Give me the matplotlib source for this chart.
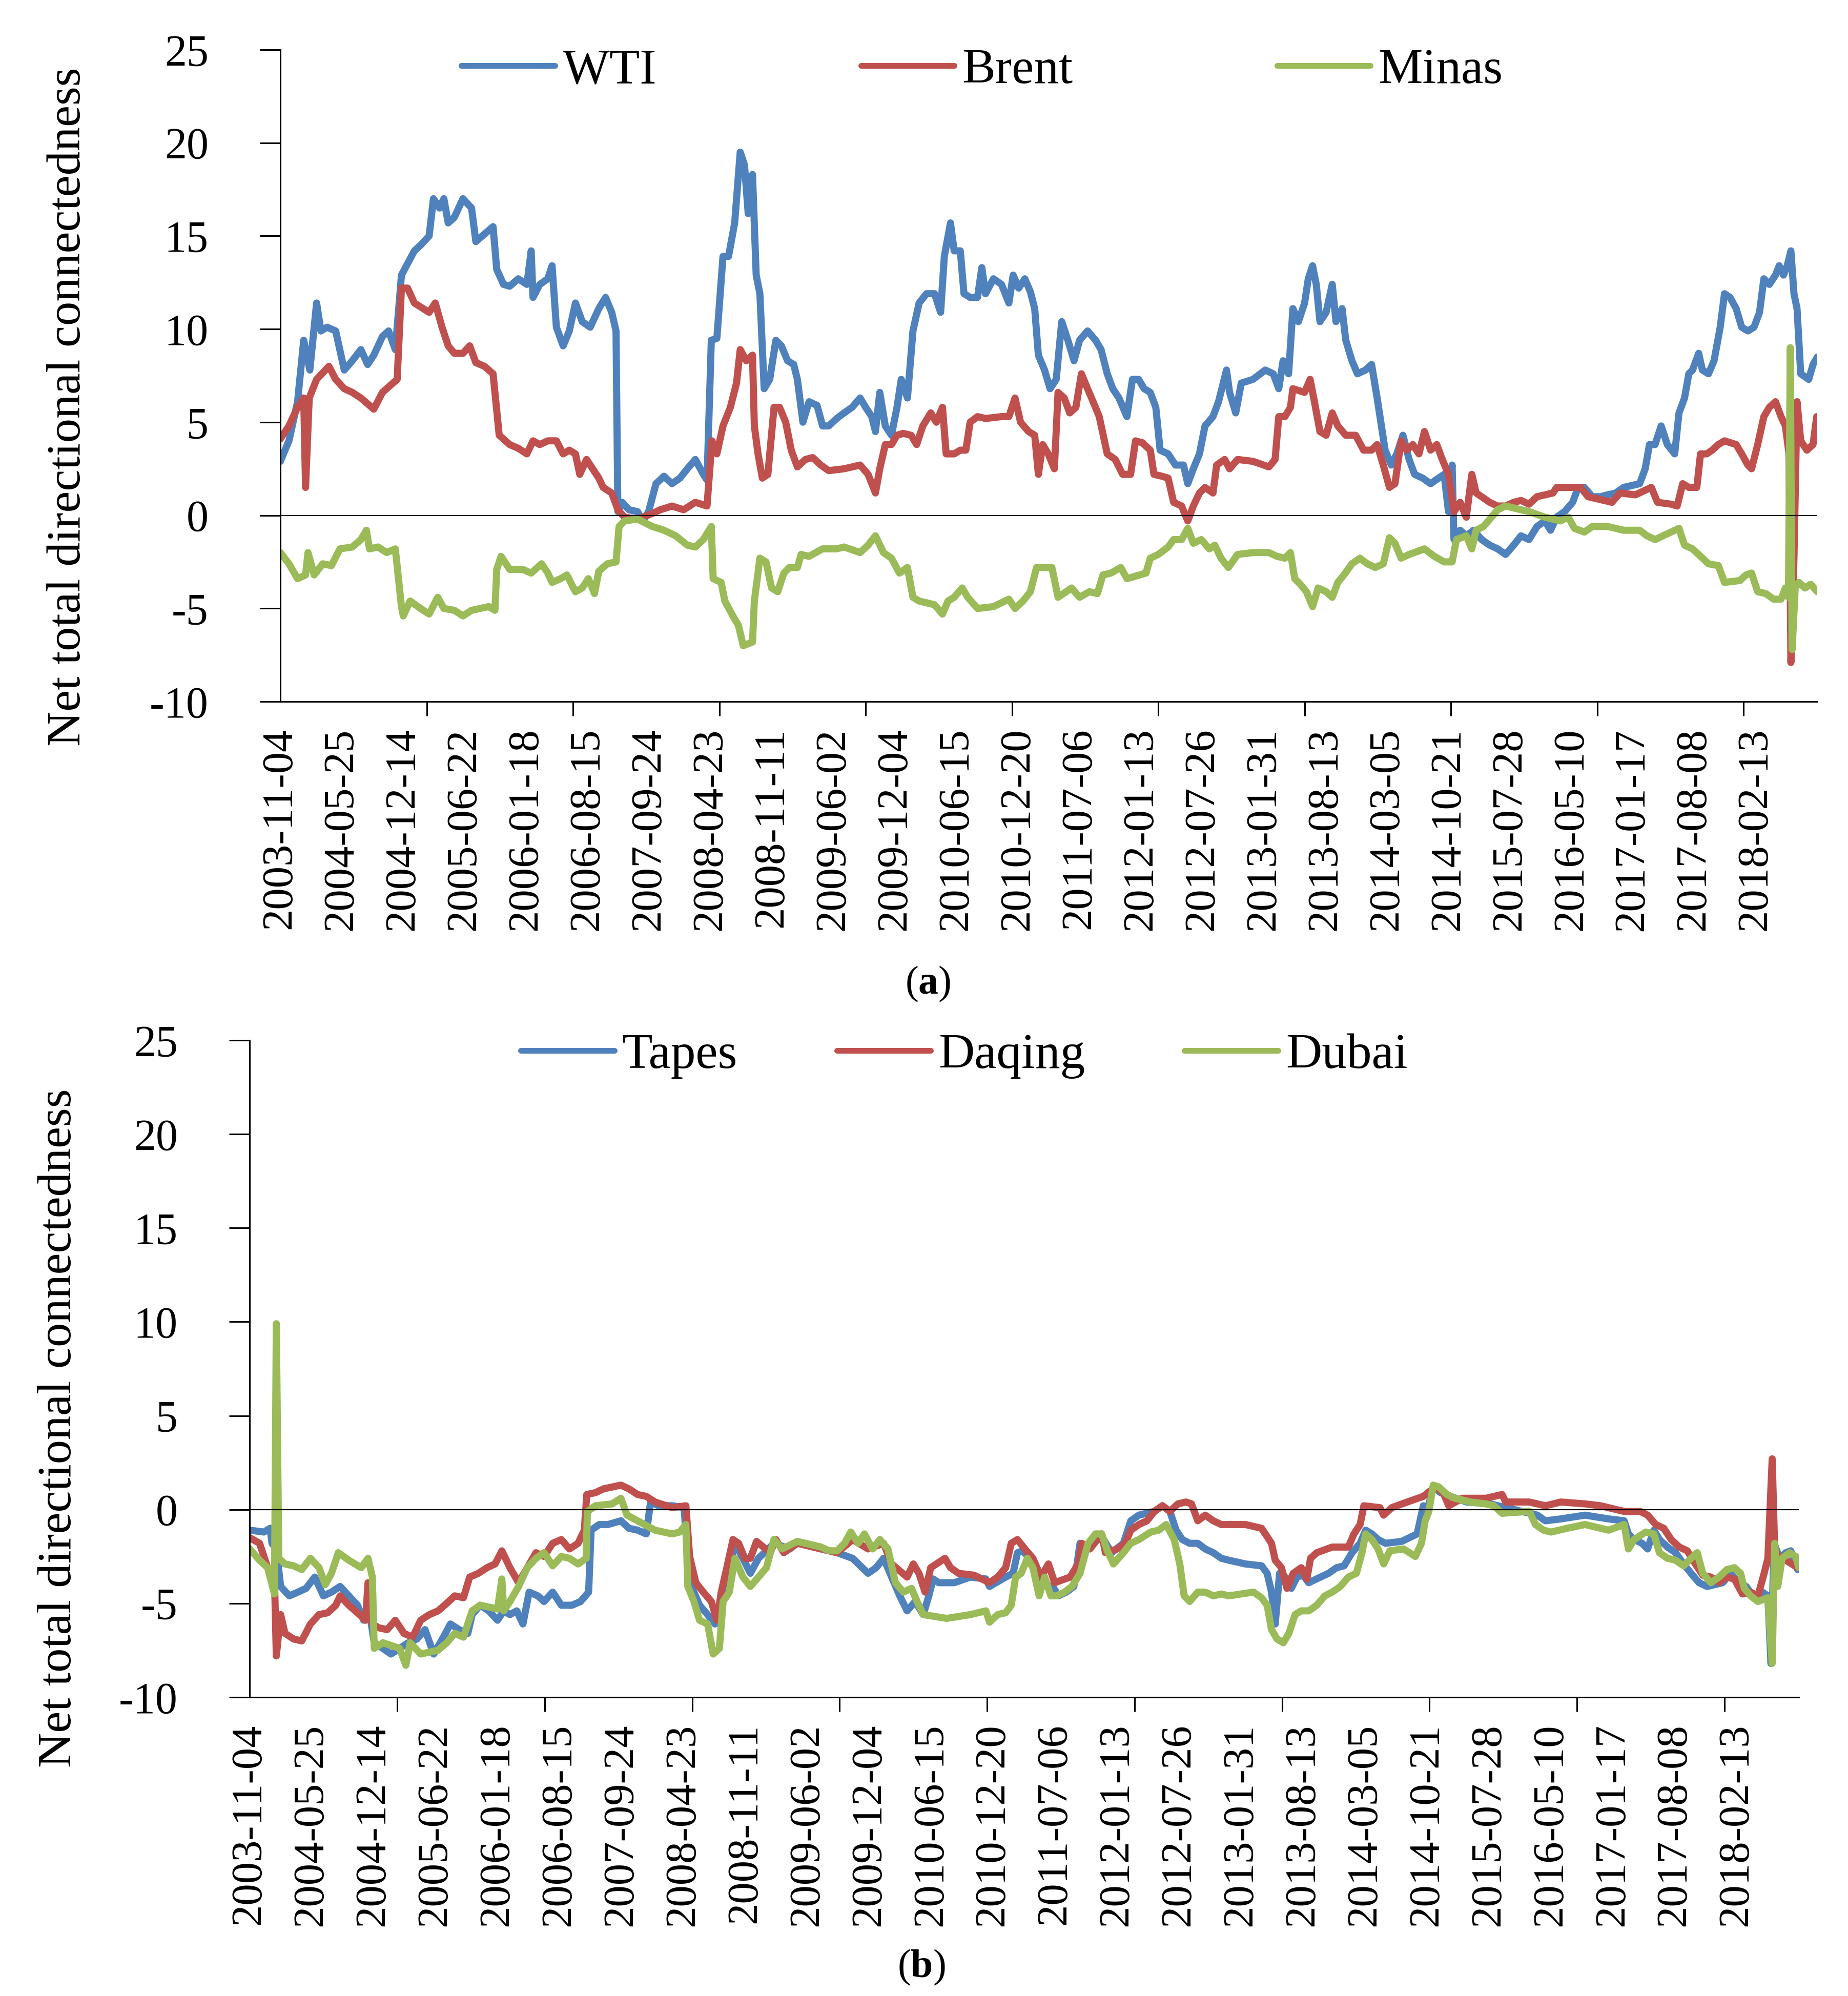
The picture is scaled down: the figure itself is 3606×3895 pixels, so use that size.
import numpy as np
import matplotlib
matplotlib.use('Agg')
import matplotlib.pyplot as plt

plt.rcParams['font.family'] = ['Liberation Serif', 'DejaVu Serif']
plt.rcParams['mathtext.fontset'] = 'custom'
plt.rcParams['mathtext.rm'] = 'Liberation Serif'
plt.rcParams['mathtext.bf'] = 'Liberation Serif:bold'
plt.rcParams['axes.unicode_minus'] = False

# category labels of the x axis (one every label step)
dates = ['2003-11-04', '2004-05-25', '2004-12-14', '2005-06-22', '2006-01-18',
         '2006-08-15', '2007-09-24', '2008-04-23', '2008-11-11', '2009-06-02',
         '2009-12-04', '2010-06-15', '2010-12-20', '2011-07-06', '2012-01-13',
         '2012-07-26', '2013-01-31', '2013-08-13', '2014-03-05', '2014-10-21',
         '2015-07-28', '2016-05-10', '2017-01-17', '2017-08-08', '2018-02-13']

# (position on category axis, value)
wti = [(0.00, 2.9), (0.14, 4.0), (0.28, 6.1), (0.38, 9.4), (0.48, 7.8), (0.59, 11.4), (0.66, 9.9),
       (0.76, 10.1), (0.90, 9.9), (1.04, 7.8), (1.17, 8.3), (1.31, 8.9), (1.42, 8.1), (1.52, 8.6),
       (1.66, 9.6), (1.76, 9.9), (1.87, 8.9), (1.97, 12.9), (2.18, 14.2), (2.28, 14.5), (2.42, 15.0),
       (2.49, 17.0), (2.59, 16.5), (2.66, 17.0), (2.73, 15.7), (2.83, 16.0), (2.97, 17.0), (3.11, 16.5),
       (3.18, 14.7), (3.32, 15.1), (3.46, 15.5), (3.52, 13.2), (3.63, 12.4), (3.73, 12.3), (3.87, 12.7),
       (4.01, 12.4), (4.08, 14.2), (4.11, 11.7), (4.22, 12.4), (4.35, 12.7), (4.42, 13.4), (4.49, 10.1),
       (4.60, 9.1), (4.70, 9.9), (4.80, 11.4), (4.91, 10.4), (5.04, 10.1), (5.18, 11.1), (5.29, 11.7),
       (5.39, 10.9), (5.46, 9.9), (5.49, 0.2), (5.56, 0.7), (5.67, 0.3), (5.81, 0.2), (5.90, -0.3),
       (5.99, 0.2), (6.11, 1.7), (6.24, 2.1), (6.37, 1.7), (6.50, 2.0), (6.62, 2.5), (6.75, 3.0),
       (6.88, 2.2), (6.94, 1.9), (7.01, 9.4), (7.10, 9.5), (7.20, 13.9), (7.29, 13.9), (7.39, 15.7),
       (7.48, 19.5), (7.55, 18.8), (7.61, 16.2), (7.68, 18.3), (7.74, 12.9), (7.80, 11.9), (7.87, 6.8),
       (7.96, 7.3), (8.06, 9.4), (8.15, 9.1), (8.25, 8.3), (8.35, 8.1), (8.41, 7.3), (8.50, 5.0),
       (8.60, 6.1), (8.73, 5.9), (8.82, 4.8), (8.92, 4.8), (9.05, 5.2), (9.17, 5.5), (9.30, 5.8),
       (9.43, 6.3), (9.52, 5.8), (9.62, 5.3), (9.68, 4.5), (9.75, 6.6), (9.84, 4.8), (9.94, 4.3),
       (10.03, 5.8), (10.10, 7.3), (10.20, 6.3), (10.29, 9.9), (10.39, 11.4), (10.51, 11.9), (10.64, 11.9),
       (10.74, 10.9), (10.80, 13.9), (10.90, 15.7), (10.96, 14.2), (11.06, 14.2), (11.12, 11.9),
       (11.22, 11.7), (11.34, 11.7), (11.41, 13.3), (11.47, 11.9), (11.60, 12.7), (11.73, 12.4),
       (11.85, 11.4), (11.92, 12.9), (12.01, 12.2), (12.11, 12.7), (12.20, 12.0), (12.27, 11.1),
       (12.33, 8.6), (12.43, 7.8), (12.52, 6.8), (12.62, 7.3), (12.71, 10.4), (12.81, 9.4), (12.91, 8.3),
       (13.00, 9.4), (13.13, 9.9), (13.26, 9.4), (13.35, 8.9), (13.45, 7.6), (13.54, 6.8), (13.64, 6.3),
       (13.77, 5.3), (13.86, 7.3), (13.96, 7.3), (14.05, 6.8), (14.15, 6.6), (14.24, 5.8), (14.31, 3.5),
       (14.44, 3.3), (14.56, 2.7), (14.69, 2.7), (14.76, 1.7), (14.85, 2.5), (14.95, 3.3), (15.04, 4.8),
       (15.17, 5.3), (15.26, 6.1), (15.39, 7.8), (15.44, 6.6), (15.54, 5.5), (15.63, 7.1), (15.82, 7.3),
       (16.02, 7.8), (16.15, 7.6), (16.24, 6.8), (16.31, 8.3), (16.40, 7.6), (16.47, 11.1), (16.56, 10.4),
       (16.66, 11.4), (16.72, 12.7), (16.79, 13.4), (16.85, 12.4), (16.91, 10.4), (17.01, 10.9),
       (17.11, 12.4), (17.17, 10.4), (17.27, 11.1), (17.33, 9.4), (17.43, 8.3), (17.52, 7.6), (17.65, 7.8),
       (17.75, 8.1), (17.84, 6.3), (17.91, 4.8), (17.97, 3.5), (18.07, 2.7), (18.16, 3.3), (18.26, 4.3),
       (18.36, 3.0), (18.45, 2.2), (18.58, 2.0), (18.71, 1.7), (18.84, 2.0), (18.93, 2.2), (19.00, 0.2),
       (19.06, 2.7), (19.09, -1.3), (19.19, -0.8), (19.29, -1.1), (19.41, -0.8), (19.54, -1.3),
       (19.67, -1.6), (19.80, -1.8), (19.93, -2.1), (20.06, -1.6), (20.18, -1.1), (20.31, -1.3),
       (20.44, -0.6), (20.57, -0.3), (20.66, -0.8), (20.76, -0.1), (20.89, 0.2), (21.02, 0.7),
       (21.11, 1.5), (21.21, 1.5), (21.34, 1.0), (21.47, 1.0), (21.59, 1.1), (21.72, 1.2), (21.85, 1.5),
       (21.98, 1.6), (22.11, 1.7), (22.20, 2.5), (22.27, 3.8), (22.36, 3.8), (22.46, 4.8), (22.56, 3.8),
       (22.68, 3.3), (22.75, 5.5), (22.84, 6.3), (22.91, 7.6), (22.97, 7.8), (23.07, 8.7), (23.13, 7.8),
       (23.23, 7.6), (23.32, 8.3), (23.42, 10.1), (23.49, 11.9), (23.58, 11.7), (23.68, 11.1),
       (23.77, 10.1), (23.87, 9.9), (23.97, 10.1), (24.06, 10.9), (24.13, 12.7), (24.22, 12.4),
       (24.32, 12.9), (24.38, 13.4), (24.45, 12.9), (24.51, 13.4), (24.57, 14.2), (24.62, 11.9),
       (24.67, 11.1), (24.73, 7.6), (24.86, 7.3), (24.93, 8.1), (25.00, 8.5)]

brent = [(0.00, 4.1), (0.14, 4.8), (0.28, 5.8), (0.38, 6.3), (0.41, 1.5), (0.47, 6.3), (0.59, 7.3),
         (0.79, 8.0), (0.90, 7.3), (1.04, 6.8), (1.17, 6.6), (1.31, 6.3), (1.52, 5.7), (1.66, 6.6),
         (1.90, 7.3), (1.97, 12.2), (2.07, 12.2), (2.18, 11.4), (2.42, 10.9), (2.52, 11.4), (2.63, 10.1),
         (2.73, 9.1), (2.83, 8.7), (2.97, 8.7), (3.08, 9.1), (3.18, 8.2), (3.32, 8.0), (3.46, 7.6),
         (3.56, 4.3), (3.73, 3.8), (3.87, 3.6), (4.01, 3.3), (4.11, 4.0), (4.22, 3.8), (4.35, 4.0),
         (4.49, 4.0), (4.60, 3.3), (4.70, 3.5), (4.80, 3.3), (4.87, 2.2), (4.98, 3.0), (5.08, 2.5),
         (5.18, 2.0), (5.25, 1.5), (5.39, 1.2), (5.49, 0.3), (5.60, -0.1), (5.81, -0.2), (6.05, 0.1),
         (6.18, 0.3), (6.37, 0.5), (6.56, 0.3), (6.75, 0.7), (6.94, 0.5), (7.02, 4.0), (7.10, 3.3),
         (7.20, 4.8), (7.32, 5.8), (7.42, 7.1), (7.48, 8.9), (7.58, 8.3), (7.68, 8.6), (7.71, 4.8),
         (7.77, 3.3), (7.84, 2.0), (7.93, 2.2), (8.03, 5.8), (8.12, 5.8), (8.22, 5.0), (8.31, 3.5),
         (8.41, 2.6), (8.54, 3.0), (8.66, 3.1), (8.79, 2.7), (8.92, 2.4), (9.17, 2.5), (9.30, 2.6),
         (9.43, 2.7), (9.56, 2.2), (9.68, 1.2), (9.75, 2.5), (9.84, 3.8), (9.94, 3.8), (10.03, 4.3),
         (10.13, 4.4), (10.26, 4.3), (10.35, 3.8), (10.45, 4.8), (10.58, 5.5), (10.67, 5.0), (10.77, 5.8),
         (10.83, 3.3), (10.96, 3.3), (11.06, 3.5), (11.15, 3.5), (11.22, 5.0), (11.34, 5.3), (11.47, 5.2),
         (11.73, 5.3), (11.85, 5.3), (11.95, 6.3), (12.04, 5.0), (12.17, 4.5), (12.27, 4.3), (12.33, 2.2),
         (12.40, 3.8), (12.49, 3.3), (12.59, 2.5), (12.65, 6.6), (12.75, 6.3), (12.84, 5.5), (12.94, 5.8),
         (13.03, 7.6), (13.13, 6.8), (13.22, 6.1), (13.32, 5.3), (13.45, 3.3), (13.58, 3.0), (13.70, 2.2),
         (13.83, 2.2), (13.91, 4.0), (14.02, 3.9), (14.15, 3.5), (14.21, 2.2), (14.34, 2.1), (14.44, 2.0),
         (14.53, 0.7), (14.66, 0.5), (14.76, -0.3), (14.85, 0.5), (14.95, 1.2), (15.04, 1.5), (15.17, 1.2),
         (15.23, 2.7), (15.36, 3.0), (15.44, 2.5), (15.57, 3.0), (15.82, 2.9), (16.08, 2.6), (16.18, 3.0),
         (16.24, 5.3), (16.34, 5.3), (16.43, 5.8), (16.47, 6.8), (16.66, 6.6), (16.75, 7.3), (16.82, 6.1),
         (16.91, 4.5), (17.01, 4.3), (17.11, 5.5), (17.20, 4.8), (17.33, 4.3), (17.49, 4.3), (17.62, 3.5),
         (17.75, 3.5), (17.84, 3.8), (17.94, 2.7), (18.04, 1.5), (18.13, 1.7), (18.23, 4.0), (18.32, 3.5),
         (18.42, 3.8), (18.52, 3.3), (18.61, 4.5), (18.71, 3.5), (18.81, 3.8), (18.90, 3.0), (19.00, 2.2),
         (19.09, 0.2), (19.19, 0.7), (19.29, -0.1), (19.38, 2.2), (19.45, 1.2), (19.54, 1.0), (19.67, 0.7),
         (19.80, 0.5), (19.93, 0.5), (20.06, 0.7), (20.18, 0.8), (20.31, 0.6), (20.44, 1.0), (20.70, 1.2),
         (20.76, 1.5), (21.15, 1.5), (21.27, 1.0), (21.53, 0.8), (21.66, 0.7), (21.79, 1.2), (22.04, 1.1),
         (22.30, 1.5), (22.40, 0.7), (22.62, 0.6), (22.72, 0.5), (22.81, 1.7), (22.91, 1.5), (23.04, 1.5),
         (23.10, 3.3), (23.20, 3.3), (23.29, 3.5), (23.39, 3.8), (23.49, 4.0), (23.68, 3.8), (23.77, 3.3),
         (23.87, 2.7), (23.93, 2.5), (24.03, 3.8), (24.13, 5.3), (24.22, 5.8), (24.32, 6.1), (24.41, 5.3),
         (24.48, 4.8), (24.54, 3.3), (24.57, -7.9), (24.62, -2.3), (24.67, 6.1), (24.73, 4.0),
         (24.83, 3.5), (24.93, 3.8), (24.99, 5.3)]

minas = [(0.00, -2.0), (0.14, -2.6), (0.28, -3.4), (0.41, -3.2), (0.45, -2.0), (0.55, -3.2), (0.69, -2.6),
         (0.83, -2.7), (0.97, -1.8), (1.17, -1.7), (1.31, -1.3), (1.40, -0.8), (1.45, -1.8), (1.59, -1.7),
         (1.73, -2.0), (1.87, -1.8), (1.97, -4.9), (2.00, -5.4), (2.11, -4.6), (2.28, -5.0), (2.42, -5.3),
         (2.56, -4.4), (2.66, -5.0), (2.83, -5.1), (2.97, -5.4), (3.11, -5.1), (3.25, -5.0), (3.39, -4.9),
         (3.49, -5.1), (3.52, -2.9), (3.59, -2.2), (3.73, -2.9), (3.94, -2.9), (4.08, -3.1), (4.25, -2.6),
         (4.35, -3.1), (4.42, -3.6), (4.56, -3.4), (4.66, -3.2), (4.80, -4.1), (4.91, -3.9), (5.01, -3.4),
         (5.11, -4.2), (5.18, -3.0), (5.32, -2.6), (5.46, -2.5), (5.51, -0.6), (5.60, -0.3), (5.81, -0.2),
         (6.05, -0.6), (6.24, -0.8), (6.43, -1.1), (6.62, -1.6), (6.75, -1.7), (6.88, -1.3), (7.01, -0.6),
         (7.04, -3.4), (7.17, -3.6), (7.23, -4.6), (7.36, -5.4), (7.45, -5.9), (7.53, -7.0), (7.68, -6.8),
         (7.71, -4.6), (7.80, -2.3), (7.90, -2.5), (7.99, -3.9), (8.09, -4.1), (8.19, -3.1), (8.28, -2.8),
         (8.41, -2.8), (8.47, -2.1), (8.60, -2.2), (8.82, -1.8), (9.05, -1.8), (9.17, -1.7), (9.43, -2.0),
         (9.56, -1.6), (9.68, -1.1), (9.81, -2.0), (9.94, -2.3), (10.07, -3.1), (10.20, -2.8), (10.29, -4.4),
         (10.39, -4.6), (10.64, -4.8), (10.77, -5.3), (10.86, -4.6), (10.96, -4.4), (11.09, -3.9),
         (11.18, -4.4), (11.34, -5.0), (11.60, -4.9), (11.85, -4.5), (11.95, -5.0), (12.08, -4.6),
         (12.20, -4.1), (12.30, -2.8), (12.55, -2.8), (12.65, -4.4), (12.87, -3.9), (13.00, -4.4),
         (13.16, -4.1), (13.29, -4.2), (13.38, -3.2), (13.51, -3.1), (13.67, -2.8), (13.77, -3.4),
         (14.08, -3.1), (14.15, -2.3), (14.28, -2.1), (14.44, -1.7), (14.53, -1.3), (14.66, -1.3),
         (14.76, -0.7), (14.85, -1.5), (14.98, -1.3), (15.11, -1.8), (15.20, -1.6), (15.30, -2.3),
         (15.42, -2.8), (15.57, -2.1), (15.82, -2.0), (16.08, -2.0), (16.21, -2.2), (16.34, -2.3),
         (16.43, -2.0), (16.50, -3.4), (16.59, -3.7), (16.69, -4.1), (16.79, -4.9), (16.88, -3.9),
         (17.01, -4.1), (17.11, -4.4), (17.20, -3.6), (17.30, -3.2), (17.43, -2.6), (17.56, -2.3),
         (17.68, -2.6), (17.81, -2.8), (17.94, -2.6), (18.04, -1.2), (18.13, -1.5), (18.23, -2.3),
         (18.36, -2.1), (18.61, -1.8), (18.77, -2.2), (18.93, -2.5), (19.06, -2.5), (19.13, -1.3),
         (19.29, -1.1), (19.38, -1.8), (19.45, -0.8), (19.57, -0.6), (19.70, -0.1), (19.80, 0.3),
         (19.93, 0.5), (20.18, 0.3), (20.31, 0.2), (20.57, -0.1), (20.82, -0.3), (20.95, -0.1),
         (21.05, -0.7), (21.21, -0.9), (21.34, -0.6), (21.59, -0.6), (21.85, -0.8), (22.11, -0.8),
         (22.23, -1.1), (22.36, -1.3), (22.49, -1.1), (22.75, -0.7), (22.84, -1.6), (22.97, -1.8),
         (23.10, -2.2), (23.23, -2.6), (23.39, -2.7), (23.49, -3.6), (23.74, -3.5), (23.84, -3.2),
         (23.93, -3.1), (24.03, -4.1), (24.16, -4.2), (24.29, -4.5), (24.41, -4.5), (24.48, -3.9),
         (24.53, -4.4), (24.56, 9.0), (24.59, -7.2), (24.64, -3.9), (24.70, -3.6), (24.80, -3.9),
         (24.89, -3.7), (25.00, -4.1)]

tapes = [(0.00, -1.1), (0.23, -1.2), (0.33, -1.0), (0.36, -1.8), (0.43, -2.1), (0.50, -4.1), (0.64, -4.6),
         (0.78, -4.4), (0.91, -4.2), (1.05, -3.6), (1.19, -4.6), (1.32, -4.4), (1.46, -4.1), (1.60, -4.6),
         (1.74, -5.1), (1.84, -5.9), (1.94, -5.6), (2.01, -7.1), (2.15, -7.4), (2.28, -7.7), (2.42, -7.4),
         (2.56, -7.1), (2.70, -6.9), (2.83, -6.4), (2.97, -7.7), (3.11, -6.9), (3.24, -6.1), (3.38, -6.4),
         (3.52, -6.6), (3.59, -5.6), (3.72, -5.1), (3.86, -5.4), (4.00, -5.9), (4.10, -5.4), (4.20, -5.6),
         (4.31, -5.4), (4.41, -6.1), (4.51, -4.4), (4.65, -4.6), (4.75, -4.9), (4.89, -4.4), (5.03, -5.1),
         (5.20, -5.1), (5.34, -4.9), (5.47, -4.4), (5.51, -1.1), (5.64, -0.8), (5.78, -0.8), (5.99, -0.6),
         (6.12, -1.0), (6.26, -1.1), (6.40, -1.3), (6.47, 0.4), (6.60, 0.2), (6.82, 0.2), (7.01, 0.1),
         (7.07, -2.6), (7.13, -4.1), (7.26, -5.1), (7.39, -5.6), (7.51, -6.1), (7.58, -5.9), (7.64, -4.1),
         (7.74, -3.1), (7.83, -1.8), (7.96, -2.6), (8.08, -3.4), (8.21, -2.6), (8.34, -2.2), (8.46, -1.8),
         (8.72, -2.1), (8.84, -1.7), (9.10, -2.0), (9.35, -2.2), (9.48, -2.3), (9.73, -2.6), (9.98, -3.4),
         (10.11, -3.1), (10.23, -2.6), (10.36, -3.6), (10.49, -4.6), (10.61, -5.4), (10.74, -4.9),
         (10.87, -5.6), (10.96, -4.6), (11.03, -3.7), (11.12, -3.9), (11.37, -3.9), (11.63, -3.6),
         (11.88, -3.7), (11.94, -4.1), (12.20, -3.6), (12.32, -3.4), (12.39, -2.3), (12.48, -2.2),
         (12.58, -2.6), (12.70, -3.1), (12.83, -4.0), (12.96, -4.1), (13.05, -4.6), (13.18, -4.4),
         (13.30, -4.1), (13.40, -1.8), (13.53, -2.1), (13.65, -1.6), (13.78, -1.6), (13.91, -2.3),
         (14.10, -1.8), (14.22, -0.6), (14.35, -0.3), (14.60, -0.1), (14.73, 0.2), (14.85, -0.1),
         (14.95, -1.1), (15.05, -1.6), (15.17, -1.8), (15.30, -1.8), (15.42, -2.1), (15.55, -2.3),
         (15.68, -2.6), (15.80, -2.7), (16.07, -2.9), (16.33, -3.0), (16.42, -3.4), (16.49, -4.4),
         (16.55, -6.1), (16.62, -3.4), (16.71, -3.6), (16.81, -4.2), (16.90, -3.6), (17.00, -3.5),
         (17.09, -3.9), (17.28, -3.6), (17.41, -3.4), (17.54, -3.1), (17.66, -3.0), (17.79, -2.3),
         (17.92, -1.8), (18.01, -1.1), (18.11, -1.3), (18.21, -1.6), (18.33, -1.8), (18.59, -1.7),
         (18.84, -1.3), (18.94, 0.2), (19.00, -0.1), (19.10, 1.2), (19.22, 0.9), (19.38, 0.7),
         (19.64, 0.4), (20.02, 0.3), (20.27, 0.1), (20.53, -0.1), (20.78, -0.3), (20.91, -0.6),
         (21.16, -0.5), (21.55, -0.3), (21.93, -0.5), (22.18, -0.6), (22.25, -1.3), (22.34, -1.6),
         (22.47, -1.8), (22.56, -2.1), (22.66, -1.1), (22.75, -1.6), (22.88, -2.0), (23.01, -2.3),
         (23.14, -2.9), (23.26, -3.4), (23.39, -3.9), (23.52, -4.1), (23.77, -3.9), (23.90, -3.4),
         (24.03, -3.9), (24.15, -4.1), (24.28, -4.7), (24.41, -4.4), (24.50, -4.6), (24.55, -8.2),
         (24.60, -1.8), (24.69, -2.6), (24.79, -2.3), (24.87, -2.2), (24.98, -3.2)]

daqing = [(0.00, -1.5), (0.16, -1.8), (0.29, -3.1), (0.40, -3.6), (0.43, -7.8), (0.50, -5.6), (0.57, -6.6),
          (0.71, -6.9), (0.84, -7.0), (0.98, -6.1), (1.12, -5.6), (1.26, -5.5), (1.39, -5.1), (1.46, -4.6),
          (1.60, -5.1), (1.74, -5.5), (1.87, -5.9), (1.91, -3.9), (1.98, -6.1), (2.08, -6.3), (2.22, -6.4),
          (2.35, -5.9), (2.49, -6.6), (2.63, -6.8), (2.76, -5.9), (2.90, -5.6), (3.04, -5.4), (3.18, -5.0),
          (3.31, -4.6), (3.45, -4.7), (3.55, -3.6), (3.69, -3.4), (3.83, -3.1), (3.96, -2.9), (4.07, -2.2),
          (4.20, -3.1), (4.34, -3.9), (4.48, -3.1), (4.62, -2.3), (4.75, -2.5), (4.89, -1.8), (5.03, -1.6),
          (5.16, -2.1), (5.30, -1.8), (5.40, -1.1), (5.44, 0.8), (5.58, 0.9), (5.71, 1.1), (5.85, 1.2),
          (5.99, 1.3), (6.12, 1.1), (6.26, 0.8), (6.40, 0.7), (6.54, 0.4), (6.82, 0.1), (7.04, 0.2),
          (7.10, -2.5), (7.20, -3.9), (7.32, -4.4), (7.45, -4.9), (7.54, -5.9), (7.61, -4.4), (7.70, -3.1),
          (7.80, -1.6), (7.89, -1.8), (7.99, -2.6), (8.08, -2.6), (8.18, -1.7), (8.40, -2.3), (8.49, -1.6),
          (8.62, -2.3), (8.84, -1.8), (9.22, -2.1), (9.48, -2.3), (9.73, -1.6), (9.98, -2.1), (10.23, -1.8),
          (10.36, -2.9), (10.61, -3.6), (10.71, -2.9), (10.80, -3.4), (10.90, -4.4), (10.99, -3.1),
          (11.22, -2.6), (11.31, -3.1), (11.44, -3.4), (11.69, -3.5), (11.94, -3.9), (12.07, -3.6),
          (12.20, -3.1), (12.29, -1.8), (12.39, -1.6), (12.51, -2.1), (12.64, -2.6), (12.77, -3.6),
          (12.89, -2.9), (12.99, -3.9), (13.24, -3.6), (13.37, -2.9), (13.43, -1.8), (13.56, -2.1),
          (13.75, -1.3), (13.81, -2.3), (14.00, -2.1), (14.13, -1.8), (14.22, -1.1), (14.35, -0.8),
          (14.48, -0.6), (14.60, -0.1), (14.73, 0.2), (14.85, -0.1), (14.98, 0.3), (15.11, 0.4),
          (15.20, 0.3), (15.30, -0.6), (15.42, -0.3), (15.55, -0.6), (15.68, -0.8), (15.80, -0.8),
          (16.07, -0.8), (16.33, -1.0), (16.49, -1.8), (16.55, -2.7), (16.65, -3.1), (16.74, -4.2),
          (16.84, -3.4), (16.97, -3.1), (17.06, -3.7), (17.12, -2.6), (17.22, -2.3), (17.47, -2.0),
          (17.73, -2.0), (17.82, -1.3), (17.92, -0.8), (17.98, 0.2), (18.24, 0.1), (18.30, -0.3),
          (18.43, 0.1), (18.68, 0.4), (18.94, 0.7), (19.13, 1.2), (19.26, 0.9), (19.35, 0.2), (19.57, 0.6),
          (19.95, 0.6), (20.21, 0.8), (20.27, 0.4), (20.65, 0.4), (20.91, 0.2), (21.16, 0.4), (21.55, 0.3),
          (21.80, 0.2), (22.18, -0.1), (22.44, -0.1), (22.56, -0.3), (22.69, -0.8), (22.82, -1.0),
          (22.94, -1.6), (23.07, -2.0), (23.20, -2.2), (23.33, -2.9), (23.45, -3.5), (23.58, -3.6),
          (23.71, -3.9), (23.84, -3.6), (23.96, -3.7), (24.09, -4.5), (24.22, -4.4), (24.34, -4.6),
          (24.44, -3.4), (24.50, -2.6), (24.57, 2.7), (24.61, -2.1), (24.69, -2.6), (24.79, -2.7),
          (24.98, -3.1)]

dubai = [(0.00, -2.1), (0.16, -2.7), (0.29, -3.1), (0.40, -4.5), (0.43, 9.9), (0.47, -2.6), (0.57, -2.9),
         (0.71, -3.0), (0.84, -3.2), (0.98, -2.6), (1.12, -3.1), (1.22, -4.0), (1.32, -3.4), (1.43, -2.3),
         (1.60, -2.7), (1.80, -3.1), (1.91, -2.6), (1.98, -3.6), (2.01, -7.4), (2.15, -7.1), (2.42, -7.4),
         (2.52, -8.3), (2.59, -7.1), (2.76, -7.7), (3.04, -7.5), (3.18, -7.1), (3.31, -6.6), (3.45, -6.8),
         (3.59, -5.4), (3.72, -5.1), (4.00, -5.3), (4.07, -3.7), (4.10, -5.4), (4.20, -4.9), (4.34, -4.1),
         (4.48, -3.1), (4.62, -2.6), (4.75, -2.3), (4.89, -3.0), (5.03, -2.5), (5.16, -2.6), (5.30, -2.9),
         (5.43, -2.6), (5.45, -0.1), (5.58, 0.2), (5.85, 0.3), (5.99, 0.6), (6.09, -0.3), (6.26, -0.6),
         (6.54, -1.1), (6.82, -1.3), (6.94, -1.2), (7.04, -0.8), (7.07, -4.1), (7.17, -4.9), (7.26, -5.9),
         (7.39, -6.1), (7.48, -7.7), (7.58, -7.4), (7.64, -4.9), (7.74, -4.4), (7.83, -2.6), (7.96, -3.6),
         (8.08, -4.1), (8.21, -3.6), (8.34, -3.1), (8.46, -1.6), (8.59, -2.1), (8.84, -1.7), (9.22, -2.0),
         (9.35, -2.2), (9.48, -2.2), (9.60, -1.8), (9.70, -1.2), (9.82, -1.8), (9.92, -1.3), (10.05, -2.1),
         (10.17, -1.6), (10.30, -2.1), (10.42, -3.9), (10.55, -4.4), (10.68, -4.2), (10.77, -4.9),
         (10.87, -5.6), (11.25, -5.8), (11.63, -5.6), (11.88, -5.4), (11.94, -6.0), (12.07, -5.6),
         (12.20, -5.5), (12.29, -5.1), (12.36, -3.6), (12.45, -3.4), (12.55, -2.6), (12.64, -3.1),
         (12.74, -4.6), (12.83, -3.6), (12.93, -4.6), (13.02, -4.6), (13.15, -4.4), (13.27, -4.1),
         (13.40, -3.4), (13.53, -1.8), (13.65, -1.3), (13.75, -1.3), (13.84, -2.2), (13.94, -2.9),
         (14.10, -2.3), (14.22, -1.8), (14.35, -1.6), (14.54, -1.2), (14.67, -1.1), (14.79, -0.8),
         (14.92, -1.6), (15.01, -2.9), (15.08, -4.6), (15.17, -4.9), (15.30, -4.4), (15.42, -4.4),
         (15.55, -4.6), (15.68, -4.5), (15.80, -4.6), (16.20, -4.4), (16.33, -4.7), (16.42, -5.1),
         (16.49, -6.4), (16.58, -6.9), (16.68, -7.1), (16.77, -6.6), (16.87, -5.6), (16.97, -5.4),
         (17.09, -5.4), (17.22, -5.1), (17.35, -4.6), (17.47, -4.4), (17.60, -4.1), (17.73, -3.6),
         (17.86, -3.4), (17.95, -2.3), (18.01, -1.3), (18.11, -1.6), (18.21, -2.1), (18.30, -2.9),
         (18.40, -2.2), (18.62, -2.1), (18.81, -2.5), (18.91, -1.8), (18.97, -0.6), (19.03, -0.1),
         (19.10, 1.3), (19.19, 1.2), (19.32, 0.8), (19.45, 0.6), (19.70, 0.4), (19.95, 0.3), (20.08, 0.2),
         (20.21, -0.2), (20.65, -0.1), (20.75, -0.8), (20.88, -1.1), (21.00, -1.2), (21.26, -1.0),
         (21.55, -0.8), (21.93, -1.1), (22.18, -0.8), (22.25, -2.1), (22.34, -1.6), (22.53, -1.2),
         (22.66, -1.3), (22.75, -2.3), (22.88, -2.6), (23.01, -2.7), (23.14, -3.0), (23.26, -2.6),
         (23.36, -2.3), (23.45, -3.4), (23.58, -3.9), (23.71, -3.6), (23.84, -3.2), (23.96, -3.1),
         (24.06, -3.4), (24.12, -4.2), (24.22, -4.6), (24.34, -4.9), (24.50, -4.7), (24.57, -8.2),
         (24.61, -1.8), (24.66, -4.1), (24.73, -2.6), (24.85, -2.3), (24.95, -2.5), (25.00, -3.1)]

names_a = ['WTI', 'Brent', 'Minas']
names_b = ['Tapes', 'Daqing', 'Dubai']
colors = ['#4F81BD', '#C0504D', '#9BBB59']
TICK_STEP = 2.38  # tick marks every 2.38 label steps


def draw_panel(ax, series, names, legend_x, legend_y, colspace, ylab_x, ylab_y):
    for data, name, color in zip(series, names, colors):
        x, y = zip(*data)
        ax.plot(x, y, color=color, lw=10, label=name,
                solid_capstyle='round', solid_joinstyle='round')
    ax.axhline(0, color='black', lw=1.6, zorder=3)
    ax.set_xlim(0, 25)
    ax.set_ylim(-10, 25)
    ax.set_yticks(range(-10, 26, 5))
    ax.set_xticks(range(len(dates)))
    ax.set_xticklabels(dates, rotation=90)
    ax.set_xticks(np.arange(0, 25, TICK_STEP), minor=True)
    ax.tick_params(axis='x', which='major', length=0, pad=37, labelsize=61)
    ax.tick_params(axis='x', which='minor', length=20, width=2.2, direction='out')
    ax.tick_params(axis='y', length=29, width=2.2, pad=72, labelsize=62, direction='out')
    for s in ['top', 'right']:
        ax.spines[s].set_visible(False)
    for s in ['left', 'bottom']:
        ax.spines[s].set_linewidth(2.2)
    ax.set_ylabel('Net total directional connectedness', fontsize=68, va='center')
    ax.yaxis.set_label_coords(ylab_x, ylab_y)
    leg = ax.legend(loc='center left', bbox_to_anchor=(legend_x, legend_y), ncol=3,
                    frameon=False, fontsize=70, handlelength=1.88, handletextpad=0.15,
                    columnspacing=colspace, borderpad=0, borderaxespad=0)
    for h in leg.get_lines():
        h.set_linewidth(8)


fig = plt.figure(figsize=(36.06, 38.95), dpi=100)
ax_a = fig.add_axes([0.1517, 0.6485, 0.8317, 0.3266])
ax_b = fig.add_axes([0.1351, 0.1497, 0.8383, 0.3291])

draw_panel(ax_a, [wti, brent, minas], names_a, 0.1177, 0.967, 4.1, -0.138, 0.452)
draw_panel(ax_b, [tapes, daqing, dubai], names_b, 0.175, 0.976, 2.0, -0.123, 0.41)

fig.text(0.502, 0.507, r'($\mathbf{a}$)', ha='center', va='center', fontsize=56)
fig.text(0.4986, 0.0144, r'($\mathbf{b}$)', ha='center', va='center', fontsize=56)

fig.savefig('out.png', dpi=100)
